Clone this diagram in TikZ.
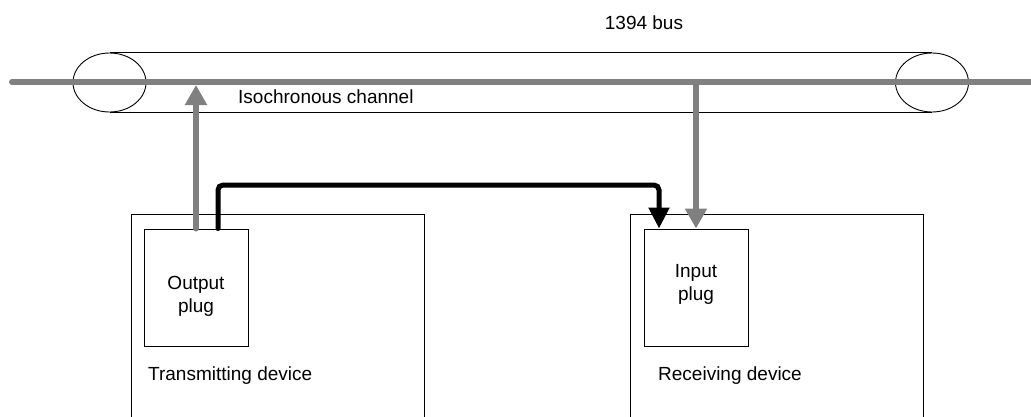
\documentclass[tikz,border=0pt]{standalone}
\usepackage{fontspec}
\setmainfont{Liberation Sans}
\usetikzlibrary{arrows.meta}
\definecolor{busgray}{RGB}{128,128,128}
\tikzset{
  txt/.style={inner sep=0pt, font=\fontsize{19}{23}\selectfont},
  plugbox/.style={draw=black, line width=1pt, minimum width=104pt, minimum height=117pt, inner sep=0pt},
  devbox/.style={draw=black, line width=1.2pt, minimum width=293pt, minimum height=230pt, inner sep=0pt, anchor=north west},
  endcap/.style={draw=black, line width=0.9pt, ellipse, minimum width=73pt, minimum height=59pt, inner sep=0pt},
  tube/.style={draw=black, line width=1pt},
  busline/.style={draw=busgray, line width=6pt, line cap=round},
  grayarrow/.style={draw=busgray, line width=6pt, line cap=round, -{Triangle[length=20pt,width=21pt]}},
  blackarrow/.style={draw=black, line width=5pt, line cap=round, rounded corners=5pt, -{Triangle[length=21pt,width=20pt]}}
}
\usetikzlibrary{shapes.geometric}
\begin{document}
\begin{tikzpicture}[x=1pt, y=-1pt]
\clip (0,0) rectangle (1031,416);
\fill[white] (0,0) rectangle (1031,416);
% bus tube
\node[endcap] (capL) at (109.5,82.5) {};
\node[endcap] (capR) at (932,82.5) {};
\draw[tube] (capL.north) -- (capR.north);
\draw[tube] (capL.south) -- (capR.south);
\coordinate (busstart) at (12,82);
\coordinate (busend) at (1045,82);
\draw[busline] (busstart) -- (busend);
\node[txt] (buslabel) at (644,23) {1394 bus};
\node[txt, anchor=west] (chanlabel) at (238,97) {Isochronous channel};
% devices
\node[devbox] (tx) at (131,214) {};
\node[devbox] (rx) at (630,214) {};
\node[plugbox] (out) at (196,287.5) {};
\node[plugbox] (in) at (696,287.5) {};
\node[txt, align=center] (outlabel) at (196,296) {Output\\plug};
\node[txt, align=center] (inlabel) at (696,284) {Input\\plug};
\node[txt, anchor=west] (txlabel) at (148,376) {Transmitting device};
\node[txt, anchor=west] (rxlabel) at (658,376) {Receiving device};
% connectors
\coordinate (busbottom) at (0,85);
\draw[grayarrow] (out.north) -- (out.north |- busbottom);
\draw[grayarrow] (in.north |- busbottom) -- (in.north);
\draw[blackarrow] ([xshift=22pt]out.north) |- (659,185) -- ([xshift=-37pt]in.north);
\end{tikzpicture}
\end{document}
